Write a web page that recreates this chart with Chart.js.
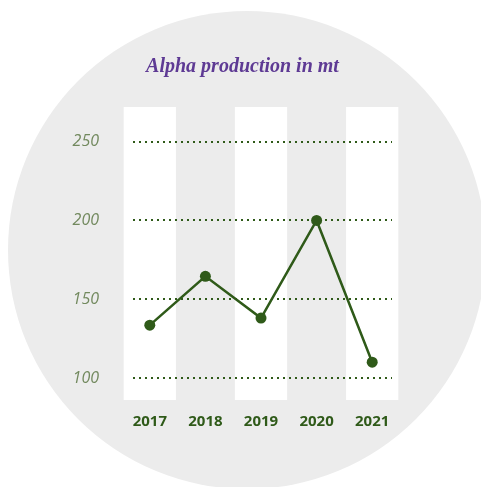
<!DOCTYPE html>
<html>
<head>
<meta charset="utf-8">
<script src="https://cdn.jsdelivr.net/npm/chart.js@4.4.1/dist/chart.umd.min.js"></script>
<style>
  html, body { margin: 0; padding: 0; background: #fff; }
  #wrap { width: 481px; height: 487px; }
</style>
</head>
<body>
<div id="wrap"><canvas id="chart" width="481" height="487"></canvas></div>
<script>
const years = ["2017", "2018", "2019", "2020", "2021"];
const production = [133.5, 164.5, 138, 200, 110];
const yTicks = [100, 150, 200, 250];
const yMin = 86;
const yMax = 272;
// white columns behind every other year
const bandYears = ["2017", "2019", "2021"];

const GREEN = "#2f5a19";

// grey disc behind the whole chart
const discPlugin = {
    id: "disc",
    beforeDraw(chart) {
        const c = chart.ctx;
        c.save();
        c.fillStyle = "#ececec";
        c.beginPath();
        c.arc(247, 250, 239, 0, Math.PI * 2);
        c.fill();
        c.restore();
    }
};

// dotted grid lines, drawn over the white columns
const dottedGrid = {
    id: "dottedGrid",
    afterDatasetDraw(chart, args) {
        if (args.index !== 0) return;
        const c = chart.ctx;
        const y = chart.scales.y;
        const area = chart.chartArea;
        c.save();
        c.strokeStyle = GREEN;
        c.lineWidth = 2;
        c.setLineDash([2, 4]);
        yTicks.forEach(v => {
            const py = Math.round(y.getPixelForValue(v));
            c.beginPath();
            c.moveTo(area.left + 11, py);
            c.lineTo(area.right - 8, py);
            c.stroke();
        });
        c.restore();
    }
};

const ctx = document.getElementById("chart").getContext("2d");
const chart = new Chart(ctx, {
    data: {
        labels: years,
        datasets: [{
            type: "bar",
            data: years.map(yr => bandYears.includes(yr) ? [yMin, yMax] : null),
            backgroundColor: "#ffffff",
            borderWidth: 0,
            barPercentage: 0.94,
            categoryPercentage: 1,
            order: 2
        }, {
            type: "line",
            data: production,
            borderColor: GREEN,
            borderWidth: 2.5,
            pointRadius: 5.5,
            pointBackgroundColor: GREEN,
            pointBorderWidth: 0,
            tension: 0,
            order: 1
        }]
    },
    options: {
        responsive: false,
        animation: false,
        events: [],
        layout: {
            padding: { left: 4, right: 0, top: 0, bottom: 0 }
        },
        plugins: {
            legend: { display: false },
            tooltip: { enabled: false },
            title: {
                display: true,
                text: "Alpha production in mt",
                color: "#5e3a94",
                font: { family: "Liberation Serif", size: 20, style: "italic", weight: "bold", lineHeight: 1.2 },
                padding: { top: 55, bottom: 28 }
            }
        },
        scales: {
            x: {
                offset: true,
                grid: { display: false, drawTicks: false },
                border: { display: false },
                ticks: {
                    color: GREEN,
                    padding: 13,
                    font: { family: "Open Sans", size: 15, weight: "bold" }
                },
                afterFit(scale) { scale.height = 87; }
            },
            y: {
                min: yMin,
                max: yMax,
                grid: { display: false, drawTicks: false },
                border: { display: false },
                afterBuildTicks(scale) {
                    scale.ticks = yTicks.map(v => ({ value: v }));
                },
                afterFit(scale) { scale.width = 118; },
                ticks: {
                    color: "#72895e",
                    padding: 23,
                    font: { family: "Open Sans", size: 16, style: "italic" }
                }
            },
            // empty right-hand axis, only keeps the margin on the right
            yRight: {
                position: "right",
                min: yMin,
                max: yMax,
                grid: { display: false, drawTicks: false },
                border: { display: false },
                ticks: { display: false },
                afterFit(scale) { scale.width = 81; }
            }
        }
    },
    plugins: [discPlugin, dottedGrid]
});
</script>
</body>
</html>
